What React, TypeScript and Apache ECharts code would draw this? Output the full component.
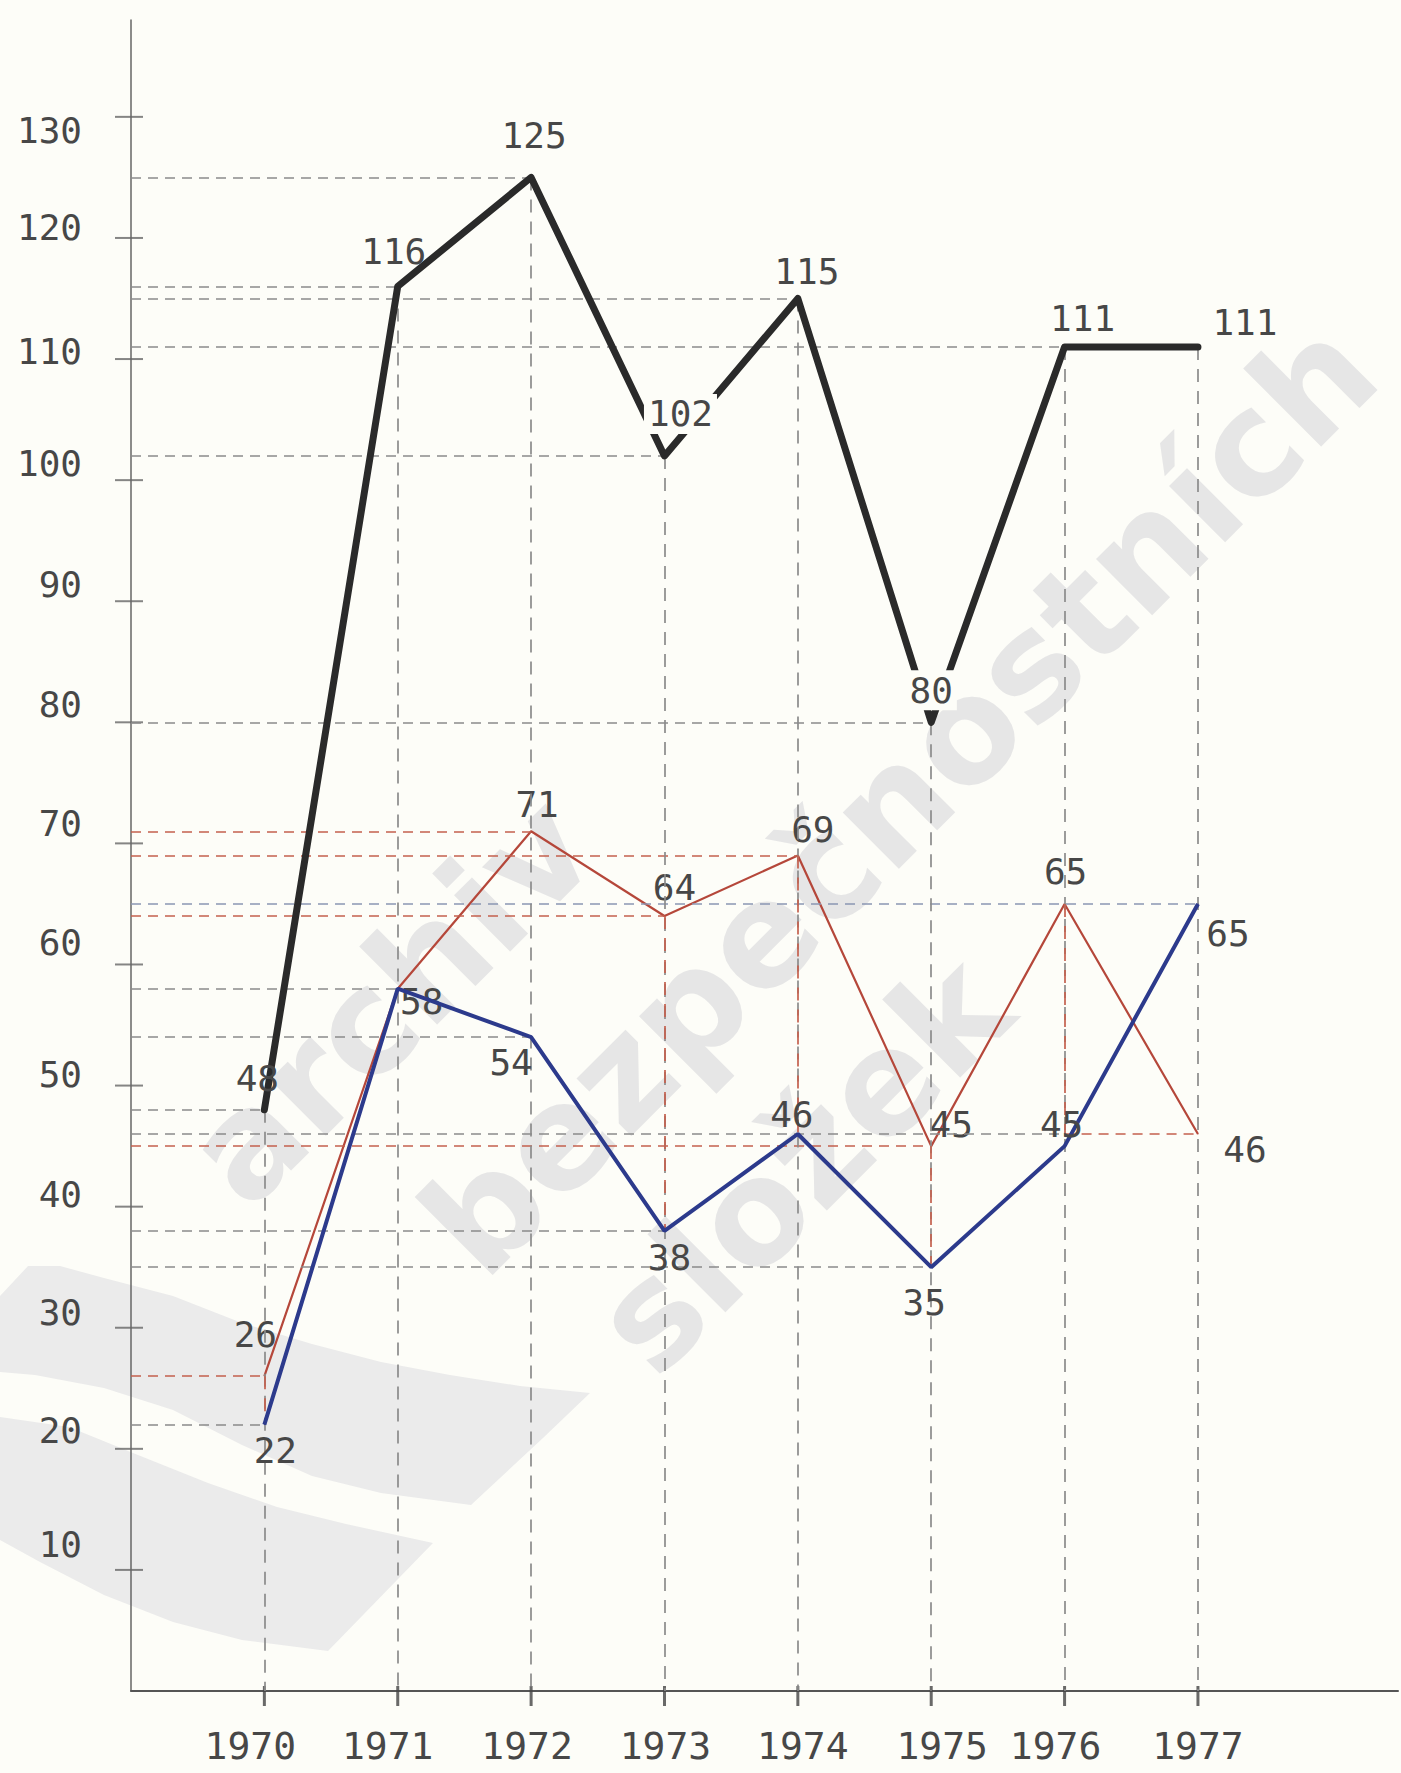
import React, { useEffect, useRef } from "react";
import * as echarts from "echarts";

// ---- data ----
const years = [1970, 1971, 1972, 1973, 1974, 1975, 1976, 1977];
const blackValues = [48, 116, 125, 102, 115, 80, 111, 111];
const redValues = [26, 58, 71, 64, 69, 45, 65, 46];
const blueValues = [22, 58, 54, 38, 46, 35, 45, 65];
const yTickValues = [10, 20, 30, 40, 50, 60, 70, 80, 90, 100, 110, 120, 130];
const watermarkLines = ["archiv", "bezpečnostních", "složek"];

// ---- layout / styling ----
const W = 1401;
const H = 1773;
const BG = "#fdfdf8";
const FONT = "DejaVu Sans Mono";
const TXT = "#474747";

// hand-lettered label shifts (px): x labels horizontally, y labels vertically (+ = down)
const xLabelShift = [-14, -10, -4, 1, 5, 11, -9, 0];
const yLabelShift = [-25, -18, -15, -12, -11, -22, -20, -18, -17, -17, -8, -10, 14];

// data label offsets (px) relative to each point
const blackLabelOffsets = [[-7, -31], [-4, -35], [3, -42], [16, -42], [9, -27], [0, -32], [18, -28], [47, -24]];
const redLabelOffsets = [[-9, -42], [24, 13], [6, -27], [10, -29], [15, -26], [20, -22], [1, -32], [47, 15]];
const blueLabelOffsets: (number[] | null)[] = [[11, 26], null, [-20, 25], [5, 27], [-6, -20], [-7, 35], [-3, -22], [30, 30]];
const gappedBlackLabels = [3, 5];

const seriesValues: Record<string, number[]> = { black: blackValues, red: redValues, blue: blueValues };
const GRAY_GUIDE = "#8b8b8b";
const RED_GUIDE = "#c4604e";
const BLUE_GUIDE = "#8a97b2";

type HG = { s: string; i: number; from?: number; to?: number; color: string };
const hGuides: HG[] = [
  { s: "black", i: 0, color: GRAY_GUIDE }, { s: "black", i: 1, color: GRAY_GUIDE },
  { s: "black", i: 2, color: GRAY_GUIDE }, { s: "black", i: 3, color: GRAY_GUIDE },
  { s: "black", i: 4, color: GRAY_GUIDE }, { s: "black", i: 5, color: GRAY_GUIDE },
  { s: "black", i: 7, color: GRAY_GUIDE },
  { s: "blue", i: 0, color: GRAY_GUIDE }, { s: "blue", i: 1, color: GRAY_GUIDE },
  { s: "blue", i: 2, color: GRAY_GUIDE }, { s: "blue", i: 3, color: GRAY_GUIDE },
  { s: "blue", i: 4, to: 6, color: GRAY_GUIDE }, { s: "blue", i: 5, color: GRAY_GUIDE },
  { s: "blue", i: 7, color: BLUE_GUIDE },
  { s: "red", i: 0, color: RED_GUIDE }, { s: "red", i: 2, color: RED_GUIDE },
  { s: "red", i: 3, color: RED_GUIDE }, { s: "red", i: 4, color: RED_GUIDE },
  { s: "red", i: 5, color: RED_GUIDE }, { s: "red", i: 7, from: 6, color: RED_GUIDE },
];
type VG = { s: string; i: number; downTo: string; color: string };
const vGuides: VG[] = [
  ...years.map((_, i) => ({ s: "black", i, downTo: "zero", color: GRAY_GUIDE })),
  { s: "red", i: 0, downTo: "blue", color: RED_GUIDE }, { s: "red", i: 3, downTo: "blue", color: RED_GUIDE },
  { s: "red", i: 4, downTo: "blue", color: RED_GUIDE }, { s: "red", i: 5, downTo: "blue", color: RED_GUIDE },
  { s: "red", i: 6, downTo: "blue", color: RED_GUIDE },
];

const X_MIN = 1969;

function buildGuides() {
  const out: any[] = [];
  hGuides.forEach((g) => {
    const v = seriesValues[g.s][g.i];
    const x1 = g.from !== undefined ? years[g.from] : X_MIN;
    const x2 = g.to !== undefined ? years[g.to] : years[g.i];
    out.push([
      { coord: [x1, v], lineStyle: { color: g.color, width: 1.7, type: [10, 7] } },
      { coord: [x2, v] },
    ]);
  });
  vGuides.forEach((g) => {
    const v = seriesValues[g.s][g.i];
    const bottom = g.downTo === "zero" ? 0 : blueValues[g.i];
    out.push([
      { coord: [years[g.i], v], lineStyle: { color: g.color, width: 1.7, type: [13, 9] } },
      { coord: [years[g.i], bottom] },
    ]);
  });
  return out;
}

function pointData(values: number[], offsets: (number[] | null)[], gapped: number[] = []) {
  return values.map((v, i) => {
    const off = offsets[i];
    const item: any = { value: [years[i], v] };
    if (!off) {
      item.label = { show: false };
    } else {
      item.label = { offset: off };
      if (gapped.includes(i)) {
        item.label.backgroundColor = BG;
        item.label.padding = [2, 4];
      }
    }
    return item;
  });
}

const labelBase = {
  show: true,
  position: "inside",
  color: TXT,
  fontFamily: FONT,
  fontSize: 36,
  textBorderWidth: 0,
  formatter: (p: any) => String(p.value[1]),
};

const xRich: Record<string, any> = {};
years.forEach((y, i) => {
  const s = xLabelShift[i];
  xRich["x" + y] = {
    fontFamily: FONT,
    fontSize: 38,
    color: TXT,
    padding: [0, s < 0 ? -2 * s : 0, 0, s > 0 ? 2 * s : 0],
  };
});
const yRich: Record<string, any> = {};
yTickValues.forEach((v, i) => {
  const s = yLabelShift[i];
  yRich["y" + v] = {
    fontFamily: FONT,
    fontSize: 36,
    color: TXT,
    padding: [s > 0 ? 2 * s : 0, 0, s < 0 ? -2 * s : 0, 0],
  };
});

const upperBand = [
  [0, 1296], [28, 1266], [60, 1266], [104, 1278], [173, 1296], [242, 1323], [312, 1344],
  [381, 1362], [450, 1375], [520, 1386], [590, 1393],
  [543, 1438], [471, 1505], [381, 1493], [312, 1476], [242, 1445], [173, 1410],
  [104, 1388], [35, 1375], [0, 1372],
];
const lowerBand = [
  [0, 1417], [69, 1427], [138, 1455], [208, 1483], [277, 1507], [346, 1524], [433, 1543],
  [328, 1651], [242, 1640], [173, 1622], [104, 1595], [40, 1562], [0, 1540],
];
const watermarkPlacement = [
  { x: 390, y: 1000 },
  { x: 899, y: 797 },
  { x: 802, y: 1164 },
];

export default function App() {
  const ref = useRef<HTMLDivElement>(null);
  useEffect(() => {
    if (!ref.current) return;
    const chart = echarts.init(ref.current, null, { renderer: "svg" });
    const option: any = {
      animation: false,
      backgroundColor: BG,
      grid: { left: 131, right: 0, top: 20, bottom: 82, containLabel: false },
      graphic: [
        { type: "polygon", z: -1, silent: true, shape: { points: upperBand }, style: { fill: "#ebebeb" } },
        { type: "polygon", z: -1, silent: true, shape: { points: lowerBand }, style: { fill: "#ebebeb" } },
        ...watermarkLines.map((t, i) => ({
          type: "text",
          z: -1,
          silent: true,
          x: watermarkPlacement[i].x,
          y: watermarkPlacement[i].y,
          rotation: Math.PI / 4,
          style: {
            text: t,
            fill: "#e6e6e6",
            font: "bold 145px 'DejaVu Sans'",
            align: "center",
            verticalAlign: "middle",
          },
        })),
      ],
      xAxis: {
        type: "value",
        min: X_MIN,
        max: 1978.5,
        interval: 1,
        z: 3,
        axisLine: { show: true, onZero: false, lineStyle: { color: "#555", width: 2 } },
        axisTick: { show: false },
        splitLine: { show: false },
        axisLabel: {
          margin: 36,
          color: TXT,
          fontFamily: FONT,
          fontSize: 38,
          formatter: (v: number) => (years.includes(v) ? `{x${v}|${v}}` : ""),
          rich: xRich,
        },
      },
      yAxis: {
        type: "value",
        min: 0,
        max: 138,
        interval: 10,
        z: 3,
        axisLine: { show: true, lineStyle: { color: "#666", width: 1.5 } },
        axisTick: { show: false },
        splitLine: { show: false },
        axisLabel: {
          margin: 49,
          color: TXT,
          fontFamily: FONT,
          fontSize: 36,
          formatter: (v: number) => (yTickValues.includes(v) ? `{y${v}|${v}}` : ""),
          rich: yRich,
        },
      },
      series: [
        {
          type: "line",
          name: "guides",
          data: [[X_MIN, 0]],
          symbol: "none",
          lineStyle: { width: 0, opacity: 0 },
          silent: true,
          z: 1,
          markLine: {
            symbol: ["none", "none"],
            silent: true,
            label: { show: false },
            emphasis: { disabled: true },
            data: buildGuides(),
          },
        },
        {
          type: "scatter",
          name: "yticks",
          data: yTickValues.map((v) => [X_MIN, v]),
          symbol: "rect",
          symbolSize: [28, 2],
          symbolOffset: [-2, 0],
          itemStyle: { color: "#666" },
          silent: true,
          clip: false,
          z: 3,
        },
        {
          type: "scatter",
          name: "xticks",
          data: years.map((y) => [y, 0]),
          symbol: "rect",
          symbolSize: [3, 20],
          symbolOffset: [0, 5],
          itemStyle: { color: "#444" },
          silent: true,
          clip: false,
          z: 3,
        },
        {
          type: "line",
          name: "red",
          data: pointData(redValues, redLabelOffsets),
          symbol: "circle",
          symbolSize: 1,
          itemStyle: { color: "#b5473a" },
          lineStyle: { color: "#b5473a", width: 2.2 },
          label: labelBase,
          silent: true,
          z: 4,
        },
        {
          type: "line",
          name: "blue",
          data: pointData(blueValues, blueLabelOffsets),
          symbol: "circle",
          symbolSize: 1,
          itemStyle: { color: "#2c3a8c" },
          lineStyle: { color: "#2c3a8c", width: 4 },
          label: labelBase,
          silent: true,
          z: 5,
        },
        {
          type: "line",
          name: "black",
          data: pointData(blackValues, blackLabelOffsets, gappedBlackLabels),
          symbol: "circle",
          symbolSize: 1,
          itemStyle: { color: "#2a2a2a" },
          lineStyle: { color: "#2a2a2a", width: 7, join: "round", cap: "round" },
          label: labelBase,
          silent: true,
          z: 6,
        },
      ],
    };
    chart.setOption(option);
    return () => chart.dispose();
  }, []);
  return (
    <div
      ref={ref}
      style={{ position: "absolute", left: 0, top: 0, width: W, height: H, background: BG }}
    />
  );
}
